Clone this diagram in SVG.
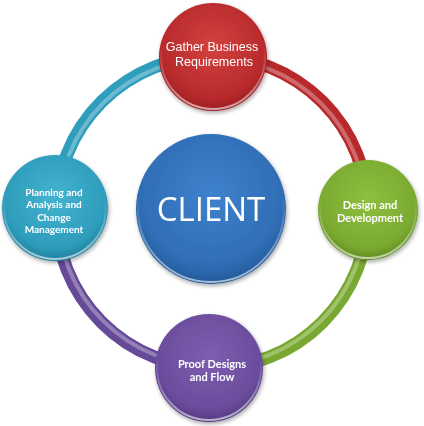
<svg xmlns="http://www.w3.org/2000/svg" width="424" height="426" viewBox="0 0 424 426">
<defs>
<radialGradient id="gRed" cx="50%" cy="40%" r="60%"><stop offset="0" stop-color="#d3423f"/><stop offset="0.8" stop-color="#b82a2c"/><stop offset="1" stop-color="#9a1d22"/></radialGradient>
<radialGradient id="gGreen" cx="50%" cy="40%" r="60%"><stop offset="0" stop-color="#8ebf3f"/><stop offset="0.8" stop-color="#7aaa30"/><stop offset="1" stop-color="#5f8a22"/></radialGradient>
<radialGradient id="gPurple" cx="50%" cy="40%" r="60%"><stop offset="0" stop-color="#7d5eb0"/><stop offset="0.8" stop-color="#6a4c9c"/><stop offset="1" stop-color="#53397f"/></radialGradient>
<radialGradient id="gTeal" cx="50%" cy="40%" r="60%"><stop offset="0" stop-color="#42b4d0"/><stop offset="0.8" stop-color="#2e9cbb"/><stop offset="1" stop-color="#1f7e9c"/></radialGradient>
<radialGradient id="gBlue" cx="50%" cy="40%" r="60%"><stop offset="0" stop-color="#3f82cc"/><stop offset="0.8" stop-color="#2f6db5"/><stop offset="1" stop-color="#245a98"/></radialGradient>
<linearGradient id="rim" x1="0" y1="0" x2="0" y2="1"><stop offset="0.4" stop-color="#fff" stop-opacity="0"/><stop offset="1" stop-color="#fff" stop-opacity="0.6"/></linearGradient>
<filter id="sh" x="-20%" y="-20%" width="140%" height="140%"><feGaussianBlur in="SourceAlpha" stdDeviation="2"/><feOffset dx="1" dy="2"/><feComponentTransfer><feFuncA type="linear" slope="0.35"/></feComponentTransfer><feMerge><feMergeNode/><feMergeNode in="SourceGraphic"/></feMerge></filter>
</defs>
<style>
.arc{fill:none;stroke-width:13}
.hl{fill:none;stroke-width:4;stroke:#fff;stroke-opacity:0.3}
.rim{fill:none;stroke:url(#rim);stroke-width:2}
.t{fill:#fff;text-anchor:middle}
.a{font-family:"Liberation Sans",Arial,sans-serif;font-size:12.5px}
.b{font-family:Lato,"Open Sans",sans-serif;font-size:11px;font-weight:bold}
.s{font-size:10px}
.c{font-family:"Open Sans","Noto Sans",sans-serif;font-size:33px}
</style>
<g id="connectors">
<path class="arc" stroke="#b8292c" d="M212,56 A156,156 0 0 1 368,212"/>
<path class="arc" stroke="#78a82f" d="M368,212 A156,156 0 0 1 212,368"/>
<path class="arc" stroke="#664a98" d="M212,368 A156,156 0 0 1 56,212"/>
<path class="arc" stroke="#2f9dbc" d="M56,212 A156,156 0 0 1 212,56"/>
<circle class="hl" cx="212" cy="212" r="154"/>
</g>
<g id="node-client" filter="url(#sh)">
<circle cx="211" cy="209" r="75" fill="url(#gBlue)"/>
<circle class="rim" cx="211" cy="209" r="73"/>
<text class="t c" x="211" y="221">CLIENT</text>
</g>
<g id="node-gather" filter="url(#sh)">
<circle cx="213" cy="57" r="54" fill="url(#gRed)"/>
<circle class="rim" cx="213" cy="57" r="52"/>
<text class="t a" x="212" y="51">Gather Business</text>
<text class="t a" x="214" y="66">Requirements</text>
</g>
<g id="node-design" filter="url(#sh)">
<circle cx="368" cy="210" r="50" fill="url(#gGreen)"/>
<circle class="rim" cx="368" cy="210" r="48"/>
<text class="t b" x="370" y="209">Design and</text>
<text class="t b" x="370" y="222">Development</text>
</g>
<g id="node-proof" filter="url(#sh)">
<circle cx="209" cy="368" r="54" fill="url(#gPurple)"/>
<circle class="rim" cx="209" cy="368" r="52"/>
<text class="t b" x="212" y="368">Proof Designs</text>
<text class="t b" x="212" y="381">and Flow</text>
</g>
<g id="node-planning" filter="url(#sh)">
<circle cx="55" cy="208" r="53" fill="url(#gTeal)"/>
<circle class="rim" cx="55" cy="208" r="51"/>
<text class="t b s" x="54" y="196">Planning and</text>
<text class="t b s" x="54" y="208.3">Analysis and</text>
<text class="t b s" x="54" y="220.6">Change</text>
<text class="t b s" x="54" y="233">Management</text>
</g>
</svg>
